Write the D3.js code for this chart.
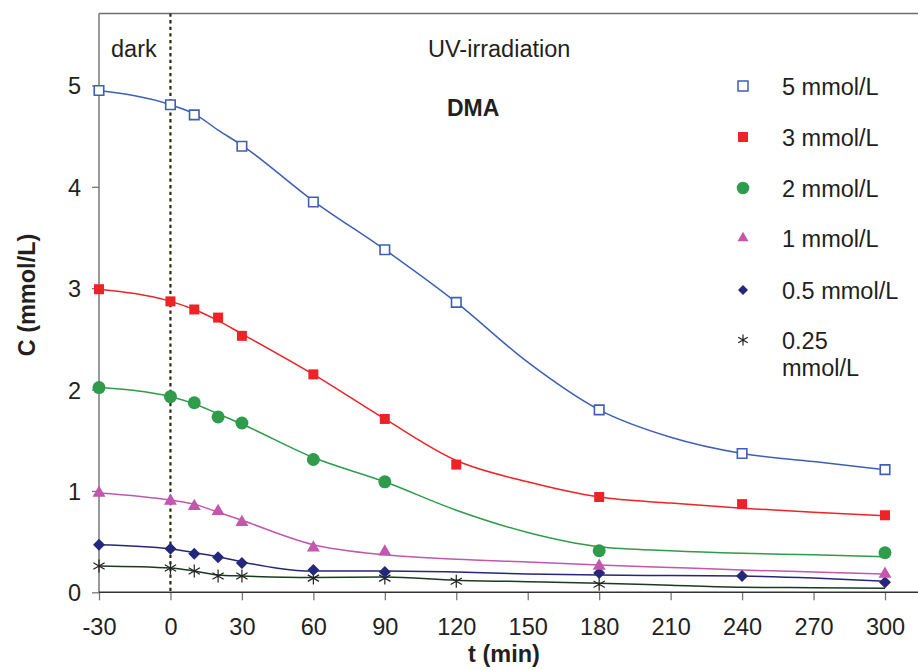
<!DOCTYPE html>
<html><head><meta charset="utf-8">
<script src="https://cdn.jsdelivr.net/npm/d3@7"></script>
<style>
body{margin:0;background:#fff;}
svg{display:block;}
text{font-family:"Liberation Sans",Arial,sans-serif;fill:#231f20;}
</style></head>
<body><svg id="c" width="918" height="670"></svg>
<script>
// ---- data ----
const xTicks = [-30,0,30,60,90,120,150,180,210,240,270,300];
const yTicks = [0,1,2,3,4,5];
const seriesNames = ["5 mmol/L","3 mmol/L","2 mmol/L","1 mmol/L","0.5 mmol/L","0.25 mmol/L"];

const t5   = [-30,0,10,30,60,90,120,180,240,300];
const c5   = [4.95,4.81,4.71,4.40,3.85,3.38,2.86,1.80,1.37,1.21];
const t3   = [-30,0,10,20,30,60,90,120,180,240,300];
const c3   = [2.99,2.87,2.79,2.71,2.53,2.15,1.71,1.26,0.94,0.87,0.76];
const t2   = [-30,0,10,20,30,60,90,180,300];
const c2   = [2.02,1.93,1.87,1.73,1.67,1.31,1.09,0.41,0.39];
const t1   = [-30,0,10,20,30,60,90,180,300];
const c1   = [0.98,0.90,0.85,0.80,0.69,0.44,0.40,0.26,0.18];
const t05  = [-30,0,10,20,30,60,90,180,240,300];
const c05  = [0.47,0.43,0.38,0.345,0.29,0.22,0.20,0.19,0.16,0.10];
const t025 = [-30,0,10,20,30,60,90,120,180];
const c025 = [0.26,0.24,0.21,0.16,0.16,0.14,0.14,0.11,0.08];

// fitted trend curves
const fitT    = [-30,0,10,20,30,60,90,120,150,180,210,240,270,300];
const fit5    = [4.95,4.81,4.72,4.56,4.41,3.86,3.38,2.86,2.27,1.80,1.53,1.37,1.29,1.21];
const fit3    = [2.99,2.87,2.79,2.68,2.55,2.15,1.71,1.30,1.09,0.94,0.88,0.83,0.79,0.755];
const fit2    = [2.02,1.93,1.86,1.76,1.66,1.33,1.09,0.81,0.59,0.45,0.41,0.385,0.37,0.35];
const fit1    = [0.98,0.91,0.87,0.79,0.71,0.47,0.37,0.325,0.30,0.27,0.245,0.22,0.20,0.18];
const fit05   = [0.47,0.43,0.39,0.35,0.30,0.21,0.21,0.20,0.18,0.17,0.165,0.16,0.14,0.11];
const fit025  = [0.26,0.24,0.21,0.17,0.16,0.145,0.15,0.12,0.105,0.09,0.07,0.05,0.045,0.04];

// ---- setup ----
const svg = d3.select("#c");
const x = d3.scaleLinear().domain([-30,300]).range([99,885]);
const y = d3.scaleLinear().domain([0,5.71]).range([592.3,13.5]);
const left = x(-30), rightEdge = 918;

const styles = [
  {t:t5, c:c5, fit:fit5, line:"#3e5fb4", sym:"sq", fill:"#fff", stroke:"#3e5fb4", size:9.5},
  {t:t3, c:c3, fit:fit3, line:"#ee2328", sym:"sq", fill:"#ee2328", stroke:"none", size:10},
  {t:t2, c:c2, fit:fit2, line:"#2e9c4a", sym:"circ", fill:"#2e9c4a", stroke:"none", size:13},
  {t:t1, c:c1, fit:fit1, line:"#c257ad", sym:"tri", fill:"#c257ad", stroke:"none", size:13},
  {t:t05, c:c05, fit:fit05, line:"#25277a", sym:"dia", fill:"#25277a", stroke:"none", size:12},
  {t:t025, c:c025, fit:fit025, line:"#1c3a22", sym:"ast", fill:"none", stroke:"#222", size:13}
];

function symPath(sym, s){
  const h = s/2;
  if(sym==="sq") return `M${-h},${-h}h${s}v${s}h${-s}Z`;
  if(sym==="circ") return d3.symbol(d3.symbolCircle, Math.PI*h*h)();
  if(sym==="tri"){ const hh = s*0.866; return `M0,${-hh*2/3}L${h},${hh/3}L${-h},${hh/3}Z`; }
  if(sym==="dia") return `M0,${-h}L${h},0L0,${h}L${-h},0Z`;
  if(sym==="ast"){ const a=h*0.866, b=h*0.5;
    return `M${-a},${-b}L${a},${b}M${-a},${b}L${a},${-b}M0,${-h}L0,${h}`; }
}

// frame: top border, axes
svg.append("line").attr("x1",left).attr("x2",rightEdge).attr("y1",y(5.71)).attr("y2",y(5.71))
  .attr("stroke","#6d6d6d").attr("stroke-width",1.5);

// y axis
const yAxis = d3.axisLeft(y).tickValues(yTicks).tickSize(7).tickPadding(11).tickFormat(d=>String(d));
const gy = svg.append("g").attr("transform",`translate(${left},0)`).call(yAxis);
gy.select(".domain").remove();
gy.selectAll(".tick line").attr("stroke","#777").attr("stroke-width",1.3);
gy.selectAll(".tick text").style("font-size","23.5px").attr("fill","#231f20").attr("dy","0.36em");
svg.append("line").attr("x1",left).attr("x2",left).attr("y1",y(5.71)).attr("y2",y(0))
  .attr("stroke","#777").attr("stroke-width",1.5);

// x axis
const xAxis = d3.axisBottom(x).tickValues(xTicks).tickSize(8).tickPadding(18).tickFormat(d=>String(d));
const gx = svg.append("g").attr("transform",`translate(0,${y(0)})`).call(xAxis);
gx.select(".domain").remove();
gx.selectAll(".tick line").attr("stroke","#777").attr("stroke-width",1.3);
gx.selectAll(".tick text").style("font-size","23.5px").attr("fill","#231f20");
svg.append("line").attr("x1",left).attr("x2",rightEdge).attr("y1",y(0)).attr("y2",y(0))
  .attr("stroke","#333").attr("stroke-width",1.5);

// dotted line at t=0
svg.append("line").attr("x1",x(0)).attr("x2",x(0)).attr("y1",y(5.71)).attr("y2",y(0))
  .attr("stroke","#2b2b12").attr("stroke-width",2.2).attr("stroke-dasharray","3.3,3.3");

// trend curves
const lineGen = d3.line().x(d=>x(d[0])).y(d=>y(d[1])).curve(d3.curveMonotoneX);
styles.slice().reverse().forEach(s=>{
  svg.append("path").datum(fitT.map((t,i)=>[t,s.fit[i]]))
    .attr("d",lineGen).attr("fill","none").attr("stroke",s.line).attr("stroke-width",1.5);
});

// markers
styles.slice().reverse().forEach(s=>{
  svg.append("g").selectAll("path").data(s.t.map((t,i)=>[t,s.c[i]])).join("path")
    .attr("transform",d=>`translate(${x(d[0])},${y(d[1])})`)
    .attr("d",symPath(s.sym,s.size))
    .attr("fill",s.fill).attr("stroke",s.stroke)
    .attr("stroke-width",s.sym==="ast"?1.2:1.6);
});

// annotations
svg.append("text").attr("x",111).attr("y",57).style("font-size","23.5px").text("dark");
svg.append("text").attr("x",428).attr("y",57).style("font-size","23.5px").text("UV-irradiation");
svg.append("text").attr("x",447).attr("y",116).style("font-size","23px").style("font-weight","bold").text("DMA");

// axis titles
svg.append("text").attr("x",504).attr("y",662).attr("text-anchor","middle")
  .style("font-size","23.5px").style("font-weight","bold").text("t (min)");
svg.append("text").attr("transform","translate(35,295) rotate(-90)").attr("text-anchor","middle")
  .style("font-size","23.5px").style("font-weight","bold").text("C (mmol/L)");

// legend
const legY = [86,137,188,238,290,340];
const legSizes = [10,10,12.5,11,10,11];
styles.forEach((s,i)=>{
  const g = svg.append("g").attr("transform",`translate(743,${legY[i]})`);
  g.append("path").attr("d",symPath(s.sym,legSizes[i]))
    .attr("fill",s.fill).attr("stroke",s.stroke).attr("stroke-width",s.sym==="ast"?1.2:1.5);
  const name = seriesNames[i];
  if(name==="0.25 mmol/L"){
    g.append("text").attr("x",39).attr("y",8.5).style("font-size","23.5px").text("0.25");
    g.append("text").attr("x",39).attr("y",35.5).style("font-size","23.5px").text("mmol/L");
  } else {
    g.append("text").attr("x",39).attr("y",8.5).style("font-size","23.5px").text(name);
  }
});
</script></body></html>
